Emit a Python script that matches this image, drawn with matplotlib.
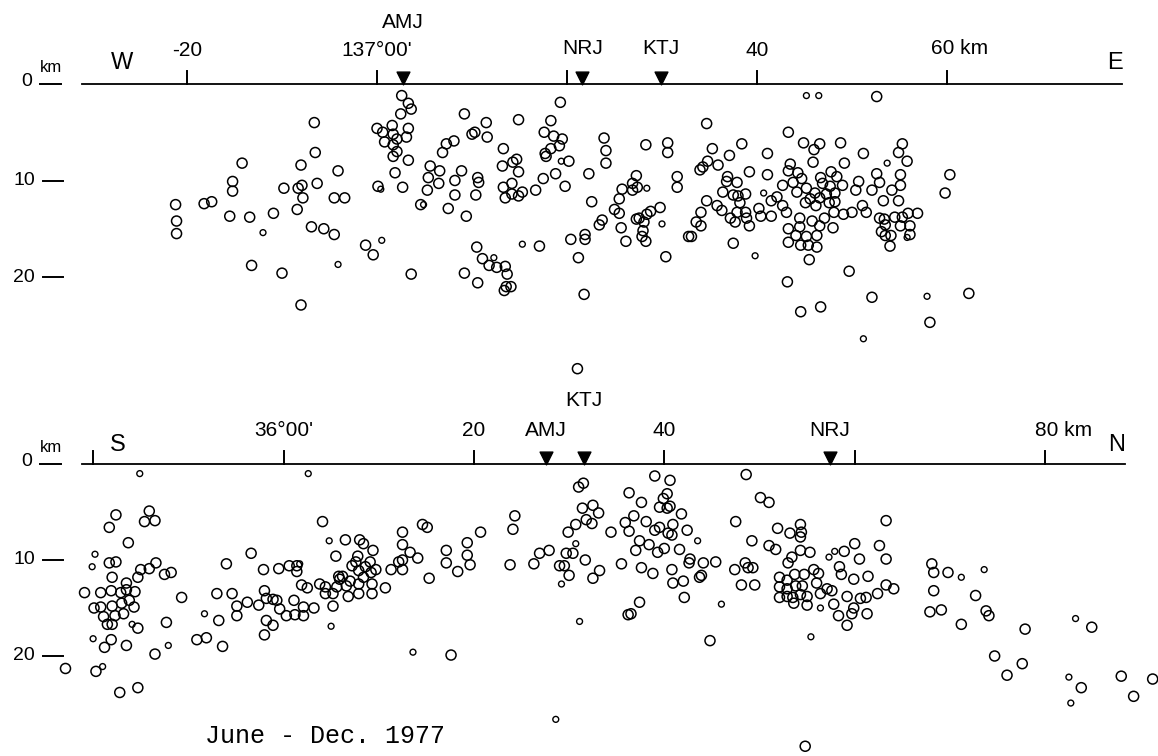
import matplotlib
matplotlib.use("Agg")
import matplotlib.pyplot as plt

plt.rcParams['font.family'] = ['Liberation Sans', 'DejaVu Sans']

# ---- E-W section (upper panel): distance (km, 0 = 137°00'), depth (km)
ew_dist = [-6.6, -6.5, -14.2, -8.0, -4.1, -15.2, -15.2, -9.8, -8.3, -7.9, -7.8, -6.3, -4.5, -3.4,
           -21.2, -18.2, -17.4, -21.1, -21.1, -15.5, -13.4, -10.9, -8.4, -6.9, -5.6, -4.5, -13.2,
           -10.0, -8.0, -1.2, -0.4, 0.1,
           0.0, 0.6, 1.6, 0.8, 1.7, 2.6, 3.3, 3.6, 2.5, 1.7, 2.1, 3.1, 3.3, 1.7, 2.1, 3.3, 1.9, 2.7,
           9.2, 11.5, 10.3, 10.0, 11.6, 8.1, 7.3, 6.9, 5.6, 6.6, 5.4, 6.5, 5.3, 4.6, 7.5, 8.2, 8.9,
           8.2, 9.4, 10.6, 10.7, 10.4, 13.3, 13.2, 14.3, 14.7, 14.9, 13.3, 14.2, 13.5, 14.2, 14.9,
           15.3, 14.9, 16.7, 10.5, 11.1, 11.8, 12.6, 13.5, 13.7, 13.6, 14.1, 13.4, 9.2, 10.6, 3.6,
           17.1, 19.3, 18.3, 17.6, 18.6, 19.5, 19.2, 18.3, 17.7, 17.8, 20.2, 18.8, 17.5, 19.8, 20.4,
           21.9, 21.9, 21.2, 21.8, 22.3, 22.6, 23.9, 24.1, 24.1, 23.7, 23.4, 25.7, 26.2, 25.0, 25.5,
           25.5, 25.8, 26.9, 27.3, 26.9, 27.4, 27.3, 27.6, 28.1, 28.4, 28.8, 29.8, 28.0, 27.9, 28.3,
           30.4, 28.3, 30.6, 30.6, 31.6, 31.6, 32.8, 21.1,
           52.6, 34.7, 43.3, 44.9, 46.6, 46.0, 48.8, 51.2, 55.3, 54.9, 55.8, 38.4, 35.3, 37.1, 41.1,
           45.9, 49.2, 34.8, 34.0, 34.3, 35.9, 39.2, 41.1, 36.9, 36.8, 37.9, 36.4, 37.5, 38.0, 38.8,
           38.2, 34.7, 35.8, 36.3, 34.1, 33.6, 34.1, 33.1, 37.5,
           37.2, 37.7, 37.9, 38.8, 38.9, 39.2, 40.2, 40.4, 41.5, 41.5, 42.1, 42.7, 43.1, 42.7, 43.5,
           43.3, 43.8, 44.3, 44.7, 44.2, 45.2, 45.1, 45.6, 46.1, 46.2, 46.6, 46.9, 46.7, 47.3, 47.7,
           47.8, 48.4, 48.2, 47.6, 48.2, 48.1, 49.0, 49.1, 50.0, 50.4, 50.7, 51.5, 51.1, 52.1, 52.6,
           52.9, 53.3, 54.2, 54.9, 55.1, 55.1, 52.9, 53.4, 53.5, 54.5, 55.3, 55.9, 56.9, 55.1, 56.1,
           56.1, 53.1, 53.5, 54.1, 54.0, 44.5, 45.8, 46.6, 47.1, 44.5, 43.3, 44.1, 45.2, 46.3, 44.6,
           45.4, 46.3, 43.3, 48.0, 45.5, 49.7, 43.2, 44.6, 46.7, 52.1, 62.3, 58.2, 60.3, 59.8]
ew_depth = [4.0, 7.1, 8.2, 8.4, 9.0, 10.1, 11.1, 10.8, 10.8, 10.5, 11.8, 10.3, 11.8, 11.8,
            12.5, 12.4, 12.2, 14.2, 15.5, 13.7, 13.8, 13.4, 13.0, 14.8, 15.0, 15.6, 18.8,
            19.6, 22.9, 16.7, 17.7, 10.6,
            4.6, 5.0, 4.3, 6.0, 7.5, 1.2, 2.0, 2.6, 3.1, 5.2, 5.7, 5.5, 4.6, 6.3, 7.0, 7.9, 9.2, 10.7,
            3.1, 4.0, 5.0, 5.2, 5.5, 5.9, 6.2, 7.1, 8.5, 9.0, 9.7, 10.3, 11.0, 12.5, 12.9, 10.0, 9.0,
            11.5, 13.7, 9.7, 10.2, 11.5, 6.7, 8.5, 8.1, 7.8, 9.1, 10.7, 10.3, 11.8, 11.4, 11.6,
            11.2, 3.7, 11.0, 16.9, 18.1, 18.8, 19.0, 18.9, 19.7, 21.0, 21.0, 21.4, 19.6, 20.6, 19.7,
            16.8, 1.9, 3.8, 5.0, 5.4, 5.7, 6.4, 6.7, 7.2, 7.5, 8.0, 9.3, 9.8, 10.6, 16.1,
            15.6, 16.1, 18.0, 21.8, 9.3, 12.2, 5.6, 6.9, 8.2, 14.1, 14.6, 14.9, 16.3, 13.0, 13.4,
            11.9, 10.9, 10.3, 9.5, 11.0, 10.7, 14.0, 13.9, 14.3, 13.5, 13.2, 12.8, 15.2, 15.8, 16.3,
            17.9, 6.3, 6.1, 7.1, 9.6, 10.7, 15.8, 29.5,
            1.3, 4.1, 5.0, 6.1, 6.2, 6.8, 6.1, 7.2, 6.2, 7.1, 8.0, 6.2, 6.7, 7.4, 7.2,
            8.1, 8.2, 8.0, 8.9, 8.6, 8.4, 9.1, 9.4, 9.6, 10.1, 10.2, 11.2, 11.5, 11.6, 11.4,
            12.3, 12.1, 12.6, 13.1, 13.3, 14.3, 14.7, 15.8, 16.5,
            13.9, 14.3, 13.3, 13.3, 13.9, 14.7, 12.9, 13.7, 13.7, 12.1, 11.7, 12.6, 13.3, 10.5, 8.3,
            9.0, 10.2, 9.2, 9.8, 11.2, 10.8, 12.3, 11.9, 11.3, 12.6, 11.8, 10.3, 9.7, 11.4, 10.6,
            9.1, 9.6, 11.3, 12.3, 12.2, 13.3, 10.5, 13.5, 13.3, 11.0, 10.1, 13.3, 12.6, 11.0, 9.3,
            10.2, 12.1, 11.0, 12.1, 10.5, 9.4, 13.9, 14.0, 14.6, 13.8, 13.8, 13.4, 13.4, 14.7, 14.7,
            15.6, 15.3, 15.7, 15.7, 16.8, 13.9, 14.2, 14.7, 13.9, 14.8, 15.0, 15.7, 15.8, 15.7, 16.7,
            16.7, 16.9, 16.4, 14.9, 18.2, 19.4, 20.5, 23.6, 23.1, 22.1, 21.7, 24.7, 9.4, 11.3]
# small events
ew_small_dist = [-12.0, -4.1, 0.5, 0.4, 4.9, 12.3, 15.3, 19.4, 28.4, 30.0,
                 45.2, 46.5, 53.7, 39.8, 40.7, 55.8, 57.9, 51.2]
ew_small_depth = [15.4, 18.7, 16.2, 10.9, 12.5, 18.0, 16.6, 8.0, 10.8, 14.5,
                  1.2, 1.2, 8.2, 17.8, 11.3, 15.9, 22.0, 26.4]

# ---- S-N section (lower panel): distance (km, 0 = 36°00'), depth (km)
sn_dist = [-17.6, -18.3, -14.1, -14.6, -13.5, -16.3, -18.3, -17.6, -18.0, -16.5, -15.3, -15.0,
           -14.1, -13.4, -12.5, -11.8, -20.9, -19.2, -18.1, -17.1, -16.5, -15.6, -19.9, -19.2,
           -18.0, -17.0, -16.2, -15.7, -18.9, -17.7, -16.8, -18.5, -18.0, -15.3, -12.3, -18.1,
           -18.8, -16.5, -13.5, -22.9, -19.7, -17.2, -15.3, -10.7, -9.1, -8.1, -6.8, -6.4, -7.0,
           -5.4, -4.9, -4.9, -6.0, -3.4, -3.8, -2.6, -2.1, -0.5, 0.6, 1.4, 1.4, -2.0, -1.8, -1.1,
           -0.7, -0.4, 0.3, 1.1, 1.2, 2.1, 2.1, 3.2, -1.8, -1.1, -2.0, 1.9, 2.5, 4.1, 5.5, 3.8,
           4.4, 4.4, 5.2, 5.2, 5.8,
           6.5, 8.0, 8.4, 9.4, 7.8, 7.6, 9.1, 7.2, 8.6, 9.7, 7.9, 9.2, 6.2, 5.9, 8.4, 7.0, 5.6,
           6.6, 7.9, 9.3, 6.8, 7.9, 9.3, 10.7, 11.3, 12.5, 12.5, 13.3, 14.1, 12.5, 12.5, 12.1,
           14.6, 15.1, 15.3, 17.1, 17.1, 18.3, 19.3, 19.3, 19.6, 20.7, 17.6, 23.8, 24.3, 24.1,
           26.3, 26.9, 27.9, 29.0, 29.5, 30.0, 32.5, 33.2, 31.7, 29.7, 30.4, 29.9, 30.7, 31.4,
           31.8, 32.4, 32.5, 33.1, 31.0, 31.5, 34.4, 35.5, 35.9, 36.3, 36.3, 36.2,
           39.0, 40.6, 37.6, 39.9, 40.3, 39.5, 40.3, 40.6, 36.8, 38.1, 41.8, 40.9, 39.0, 39.5,
           40.4, 40.8, 42.4, 37.4, 37.0, 38.4, 39.3, 40.0, 41.6, 37.6, 38.8, 40.8, 42.7, 42.6,
           44.1, 45.4, 40.9, 42.0, 43.9, 43.7, 42.1, 37.4, 36.5, 44.8, 48.6, 50.1, 51.0, 47.5,
           49.2, 47.4, 48.5, 48.8, 49.3, 48.1, 49.5,
           51.9, 53.2, 54.3, 54.4, 54.3, 51.0, 51.7, 54.3, 55.3, 53.4, 53.0, 58.9, 60.0, 60.5,
           62.6, 63.3, 63.3, 58.4, 58.6, 59.9, 61.4, 55.7, 56.2, 54.7, 53.7, 52.1, 52.9, 52.1,
           52.9, 53.8, 54.5, 56.0, 57.1, 57.6, 56.4, 52.1, 52.9, 53.5, 54.3, 55.0, 53.6, 55.0,
           57.8, 58.3, 59.2, 59.2, 59.7, 59.9, 60.6, 61.2, 61.3, 62.4, 63.3, 64.1,
           68.1, 68.3, 69.8, 68.3, 72.7, 67.9, 69.1, 73.8, 74.1, 71.2, 77.9, 84.9, 74.7, 77.6,
           76.0, 83.8, 88.0, 89.3, 91.3, 54.8]
sn_depth = [5.3, 6.6, 4.9, 6.0, 5.9, 8.2, 10.3, 10.2, 11.8, 12.4, 11.8, 11.0,
            10.9, 10.3, 11.5, 11.3, 13.4, 13.4, 13.2, 13.4, 13.1, 13.3, 15.0, 14.9,
            14.8, 14.5, 14.2, 14.9, 15.9, 15.8, 15.6, 16.7, 16.7, 17.1, 16.5, 18.3,
            19.1, 18.9, 19.8, 21.3, 21.6, 23.8, 23.3, 13.9, 18.3, 18.1, 16.3, 19.0, 13.5,
            13.5, 14.8, 15.8, 10.4, 9.3, 14.4, 14.7, 11.0, 10.9, 10.6, 10.6, 11.2, 13.2, 14.0, 14.1,
            14.2, 15.1, 15.8, 14.2, 15.7, 14.9, 15.8, 15.0, 16.3, 16.8, 17.8, 12.6, 12.9, 6.0, 9.6, 12.5,
            12.8, 13.5, 13.5, 14.8, 11.7,
            7.9, 7.9, 8.3, 9.0, 9.6, 10.2, 10.2, 10.6, 10.7, 11.0, 11.1, 11.3, 11.7, 12.0, 11.8, 12.2, 12.8,
            12.7, 12.5, 12.5, 13.8, 13.5, 13.5, 12.9, 11.0, 7.1, 8.4, 9.2, 9.8, 10.0, 11.0, 10.2,
            6.3, 6.6, 11.9, 9.0, 10.3, 11.2, 8.2, 9.5, 10.5, 7.1, 19.9, 10.5, 5.4, 6.8,
            10.4, 9.3, 9.0, 10.6, 10.6, 11.6, 11.9, 11.1, 10.0, 9.3, 9.3, 7.1, 6.3, 4.6,
            5.8, 6.2, 4.3, 5.1, 2.4, 2.0, 7.1, 10.4, 6.1, 3.0, 7.0, 15.7,
            1.25, 1.7, 4.0, 3.6, 3.1, 4.5, 4.6, 4.4, 5.4, 6.0, 5.2, 6.3, 6.9, 6.6,
            7.2, 7.4, 6.9, 8.0, 9.0, 8.4, 9.2, 8.8, 8.9, 10.8, 11.4, 11.0, 9.9, 10.3,
            10.3, 10.2, 12.4, 12.2, 11.6, 11.8, 13.9, 14.4, 15.6, 18.4, 1.1, 3.5, 4.0, 6.0,
            8.0, 11.0, 10.3, 10.8, 10.8, 12.6, 12.6,
            6.7, 7.2, 6.3, 7.1, 7.6, 8.5, 8.9, 9.0, 9.2, 9.7, 10.3, 9.1, 8.3, 9.9,
            8.5, 9.9, 5.9, 10.7, 11.5, 12.0, 11.7, 11.0, 11.4, 11.5, 11.5, 11.8, 12.1, 12.8,
            13.0, 12.7, 12.7, 12.4, 13.0, 13.2, 13.5, 13.9, 13.8, 13.9, 13.6, 13.8, 14.5, 14.7,
            14.6, 15.8, 13.8, 16.8, 15.6, 15.0, 14.0, 13.9, 15.6, 13.5, 12.6, 13.0,
            10.4, 11.3, 11.3, 13.2, 13.7, 15.4, 15.2, 15.3, 15.8, 16.7, 17.2, 17.0, 20.0, 20.8,
            22.0, 23.3, 22.1, 24.2, 22.4, 29.4]
sn_small_dist = [-15.1, 2.6, -19.8, -20.1, -15.9, -20.0, -12.1, -19.0, -8.3, 1.7, 4.8, 5.0,
                 13.6, 29.2, 30.7, 31.1, 28.6, 43.5, 46.0, 57.3, 57.9, 56.4, 55.4,
                 71.2, 73.6, 83.2, 82.5, 82.7]
sn_small_depth = [1.0, 1.0, 9.4, 10.7, 16.7, 18.2, 18.9, 21.1, 15.6, 10.4, 8.0, 16.9,
                  19.6, 12.5, 8.3, 16.4, 26.6, 8.0, 14.6, 9.7, 9.1, 15.0, 18.0,
                  11.8, 11.0, 16.1, 22.2, 24.9]

# stations (distance along section, km)
ew_stations = ["AMJ", "NRJ", "KTJ"]
ew_station_dist = [2.7, 21.6, 29.9]
sn_stations = ["AMJ", "KTJ", "NRJ"]
sn_station_dist = [27.6, 31.6, 57.4]

ew_ticks = [-20, 0, 20, 40, 60]
ew_tick_labels = ["-20", "137°00'", "", "40", ""]
sn_ticks = [-20, 0, 20, 40, 60, 80]
sn_tick_labels = ["", "36°00'", "20", "40", "", ""]
depth_ticks = [10, 20]

W, H = 1158, 756
fig = plt.figure(figsize=(W / 100, H / 100), dpi=100)

# each panel: 0 km at a given pixel column / row, ~9.5 px per km
ax1 = fig.add_axes([0, 0.5, 1, 0.5])
ax2 = fig.add_axes([0, 0, 1, 0.5])
ax1.set_xlim(-377 / 9.5, (W - 377) / 9.5)
ax1.set_ylim((378 - 84) / 9.65, -84 / 9.65)
ax2.set_xlim(-283.5 / 9.52, (W - 283.5) / 9.52)
ax2.set_ylim((756 - 464) / 9.6, (378 - 464) / 9.6)

big = dict(s=52, facecolors='none', edgecolors='black', linewidths=1.1, zorder=3)
small = dict(s=18, facecolors='none', edgecolors='black', linewidths=1.0, zorder=3)
lab = dict(fontsize=15, ha='center', va='center')


def draw_frame(ax, line_from, line_to, ticks, tick_labels, st_names, st_dist, depth_per_px):
    ax.axis('off')
    ax.plot([line_from, line_to], [0, 0], color='black', lw=1.3, zorder=2)
    for t, tl in zip(ticks, tick_labels):
        ax.plot([t, t], [0, -13 * depth_per_px], color='black', lw=1.4)
        if tl:
            ax.text(t, -34 * depth_per_px, tl, **lab)
    ax.scatter(st_dist, [-6.5 * depth_per_px] * len(st_dist), marker='v', s=85,
               color='black', zorder=4)
    # depth scale at the left edge
    tr = ax.get_yaxis_transform()
    ax.text(27 / W, -0.3, "0", transform=tr, fontsize=14, ha='center', va='center')
    ax.text(51 / W, -17 * depth_per_px, "km", transform=tr, fontsize=12, ha='center', va='center')
    ax.plot([40 / W, 61 / W], [0, 0], color='black', lw=1.4, transform=tr)
    for d in depth_ticks:
        ax.text(24 / W, d, str(d), transform=tr, fontsize=14, ha='center', va='center')
        ax.plot([43 / W, 63 / W], [d, d], color='black', lw=1.4, transform=tr)


draw_frame(ax1, -31.1, 78.4, ew_ticks, ew_tick_labels, ew_stations, ew_station_dist, 1 / 9.65)
ax1.scatter(ew_dist, ew_depth, **big)
ax1.scatter(ew_small_dist, ew_small_depth, **small)
for name, x in zip(ew_stations, ew_station_dist):
    y = -62 / 9.65 if name == "AMJ" else -35 / 9.65
    ax1.text(x, y, name, **lab)
ax1.text(58.3, -35 / 9.65, "60 km", fontsize=15, ha='left', va='center')
ax1.text(-26.8, -21 / 9.65, "W", fontsize=17, ha='center', va='center')
ax1.text(77.7, -21 / 9.65, "E", fontsize=17, ha='center', va='center')

draw_frame(ax2, -21.2, 88.4, sn_ticks, sn_tick_labels, sn_stations, sn_station_dist, 1 / 9.6)
ax2.scatter(sn_dist, sn_depth, **big)
ax2.scatter(sn_small_dist, sn_small_depth, **small)
for name, x in zip(sn_stations, sn_station_dist):
    y = -63 / 9.6 if name == "KTJ" else -33 / 9.6
    ax2.text(x, y, name, **lab)
ax2.text(78.9, -33 / 9.6, "80 km", fontsize=15, ha='left', va='center')
ax2.text(-17.4, -19 / 9.6, "S", fontsize=17, ha='center', va='center')
ax2.text(87.5, -19 / 9.6, "N", fontsize=17, ha='center', va='center')
ax2.text(-8.2, 272 / 9.6, "June - Dec. 1977", fontsize=18, family='Liberation Mono',
         ha='left', va='center')

fig.savefig("out.png", dpi=100)
